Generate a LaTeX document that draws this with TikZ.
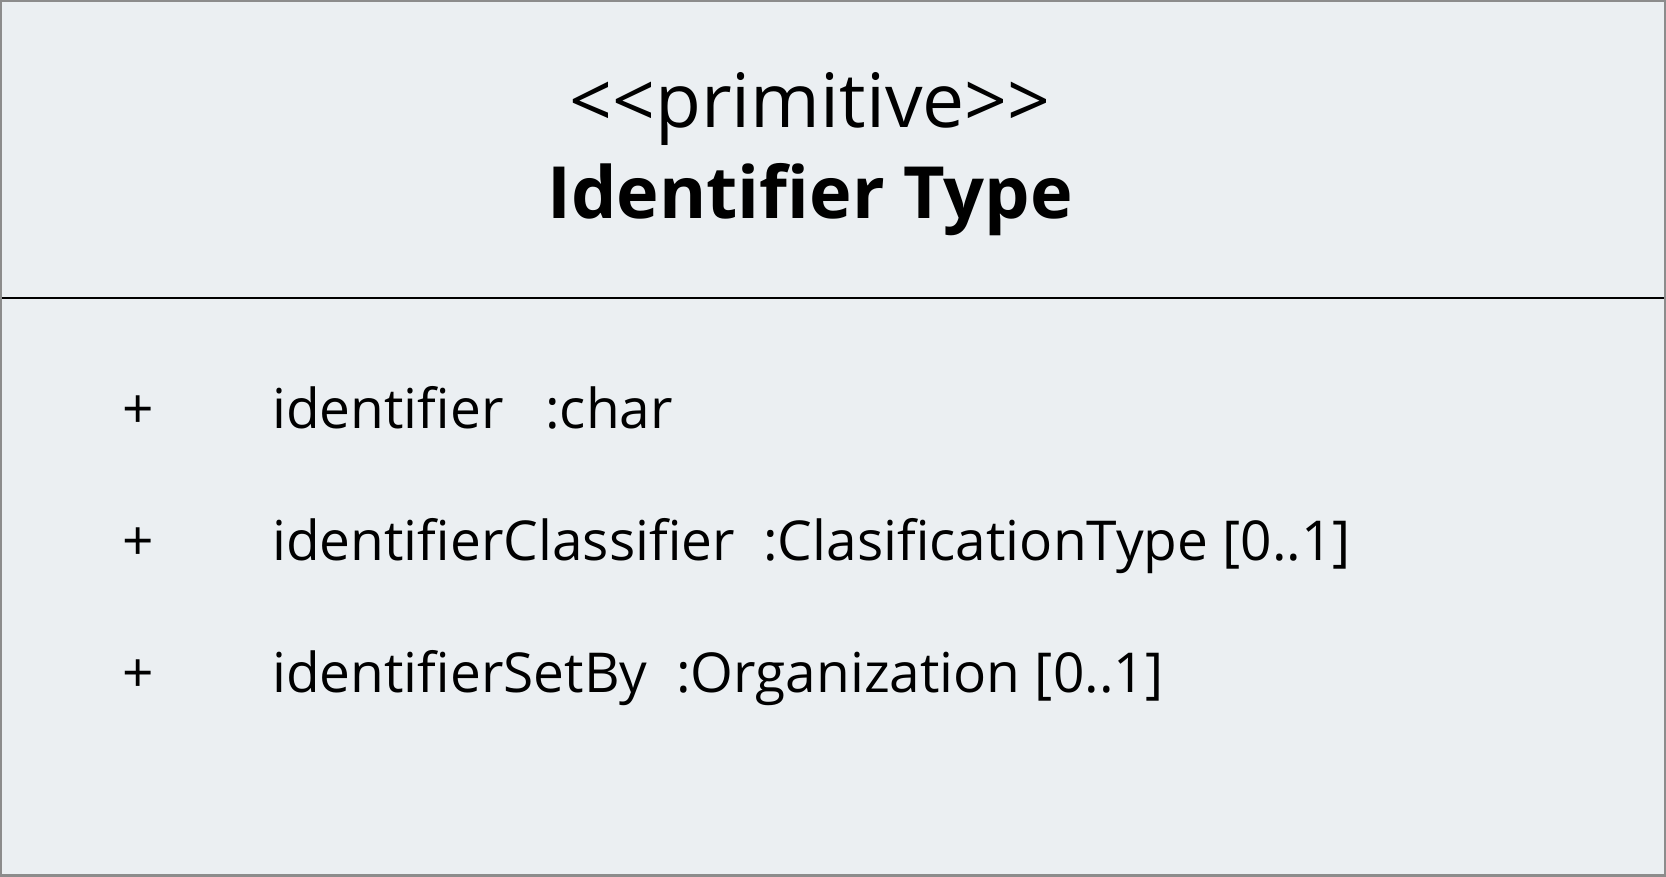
\documentclass[tikz,border=0pt]{standalone}
\usepackage{fontspec}
\setmainfont{Open Sans}
\usetikzlibrary{positioning}

\definecolor{boxfill}{HTML}{EBEFF2}
\definecolor{boxline}{HTML}{8C8C8C}

\newcommand{\lt}{<\kern0pt}
\newcommand{\gt}{>\kern0pt}

\tikzset{
  stereo/.style={anchor=base, inner sep=0pt, font=\fontsize{75}{90}\selectfont},
  classname/.style={anchor=base, inner sep=0pt, font=\fontsize{72}{86}\selectfont\bfseries},
  vis/.style={anchor=base west, inner sep=0pt, font=\fontsize{55}{66}\selectfont},
  attr/.style={anchor=base west, inner sep=0pt, font=\fontsize{55}{66}\selectfont},
}

\begin{document}
\begin{tikzpicture}[x=1pt,y=-1pt]
  \useasboundingbox (0,0) rectangle (1666,876);
  % class box
  \fill [boxfill] (0,0) rectangle (1666,876);
  \draw [boxline, line width=4pt] (0,0) rectangle (1666,876);
  \coordinate (divl) at (2,298);
  \coordinate (divr) at (1664,298);
  \draw [black, line width=1.5pt] (divl) -- (divr);
  % header
  \node [stereo] (stereotype) at (810,127) {\lt\lt primitive\gt\gt};
  \node [classname] (name) at (810,218) {Identifier Type};
  % attributes
  \node [vis] (vis1) at (122,428) {+};
  \node [attr] (att1) at (272,428) {identifier};
  \node [attr] (typ1) at (545,428) {:char};
  \node [vis] (vis2) at (122,560) {+};
  \node [attr] (att2) at (272,560) {identifierClassifier};
  \node [attr] (typ2) at (763,560) {:ClasificationType [0..1]};
  \node [vis] (vis3) at (122,692) {+};
  \node [attr] (att3) at (272,692) {identifierSetBy};
  \node [attr] (typ3) at (676,692) {:Organization [0..1]};
\end{tikzpicture}
\end{document}
